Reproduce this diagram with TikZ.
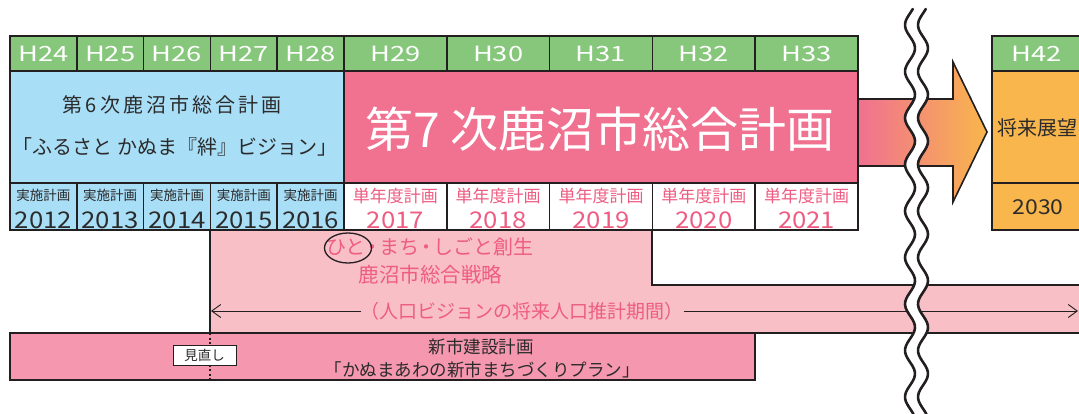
\documentclass[tikz,border=0pt]{standalone}
\usepackage{fontspec}
\setmainfont{Noto Sans CJK JP}
\newfontfamily\hdrfont{Noto Sans CJK JP}[FakeStretch=1.3]
\newfontfamily\yrfont{Noto Sans CJK JP}[FakeStretch=1.12]
\usetikzlibrary{arrows.meta,calc,shapes.geometric}
\definecolor{lineC}{HTML}{231F20}
\definecolor{hdrG}{HTML}{86C77B}
\definecolor{blueF}{HTML}{A9DEF7}
\definecolor{pinkM}{HTML}{F07190}
\definecolor{pinkL}{HTML}{F8BFC7}
\definecolor{pinkB}{HTML}{F497AF}
\definecolor{orangeF}{HTML}{F9B64C}
\definecolor{pinkT}{HTML}{EE5C82}
\definecolor{textD}{HTML}{2B2B2B}
\begin{document}
\begin{tikzpicture}[x=1pt,y=-1pt,
  cell/.style={draw=lineC, line width=1.7pt, inner sep=0pt, outer sep=0pt, anchor=north west},
  hdr/.style={cell, fill=hdrG, text=white, font=\hdrfont\fontsize{21}{24}\selectfont, minimum height=35pt},
  lcell/.style={minimum width=66.8pt},
  rcell/.style={minimum width=102.8pt},
  lab/.style={inner sep=0pt, outer sep=0pt},
  small/.style={lab, text=textD, font=\fontsize{13.5}{16}\selectfont},
  smallp/.style={lab, text=pinkT, font=\fontsize{17}{20}\selectfont},
  yr/.style={lab, font=\yrfont\fontsize{23}{26}\selectfont},
  mid/.style={lab, font=\fontsize{20}{24}\selectfont},
  wave/.style={draw=lineC, line width=2.6pt, line cap=round},
]
\useasboundingbox (0,0) rectangle (1079,414);
\clip (0,0) rectangle (1079,414);

% strategy region
\filldraw[fill=pinkL, draw=lineC, line width=1.6pt]
  (210,230) -- (652,230) -- (652,285) -- (1095,285) -- (1095,333) -- (210,333) -- cycle;

% header cells
\foreach \i/\t in {0/H24,1/H25,2/H26,3/H27,4/H28}
  \node[hdr, lcell] (hl\i) at ({10+66.8*\i},36) {\t};
\foreach \i/\t in {0/H29,1/H30,2/H31,3/H32,4/H33}
  \node[hdr, rcell] (hr\i) at ({344+102.8*\i},36) {\t};
\node[hdr, minimum width=100pt] (h42) at (992,36) {};
\node[lab, text=white, font=\hdrfont\fontsize{21}{24}\selectfont] (h42t) at (1037,53.5) {H42};

% small cells
\foreach \i/\y in {0/2012,1/2013,2/2014,3/2015,4/2016}{
  \node[cell, lcell, fill=blueF, minimum height=47pt] (sl\i) at ({10+66.8*\i},183) {};
  \node[small] (slt\i) at ($(sl\i.north)+(0,12)$) {実施計画};
  \node[yr, text=textD] (sly\i) at ($(sl\i.north)+(0,37)$) {\y};
}
\foreach \i/\y in {0/2017,1/2018,2/2019,3/2020,4/2021}{
  \node[cell, rcell, fill=white, minimum height=47pt] (sr\i) at ({344+102.8*\i},183) {};
  \node[smallp] (srt\i) at ($(sr\i.north)+(0,13)$) {単年度計画};
  \node[yr, text=pinkT] (sry\i) at ($(sr\i.north)+(0,37)$) {\y};
}

% 6th plan
\node[cell, fill=blueF, line width=2.2pt, minimum width=334pt, minimum height=112pt] (pold) at (10,71) {};
\node[mid, text=textD] (pold1) at (172,105) {第\kern3pt 6\kern3pt 次\kern3pt 鹿\kern3pt 沼\kern3pt 市\kern3pt 総\kern3pt 合\kern3pt 計\kern3pt 画};
\node[mid, text=textD] (pold2) at (175,147) {「ふるさと かぬま『絆』ビジョン」};

% 7th plan
\node[cell, fill=pinkM, line width=2.8pt, minimum width=514pt, minimum height=112pt] (pmain) at (344,71) {};
\node[lab, text=white, font=\fontsize{48}{50}\selectfont] (pmaint) at (600,129) {第7 次鹿沼市総合計画};

% future
\node[cell, fill=orangeF, minimum width=100pt, minimum height=112pt] (fut) at (992,71) {};
\node[mid, anchor=west, text=textD] (futt) at (997,128) {将来展望};
\node[cell, fill=orangeF, minimum width=100pt, minimum height=47pt] (fyr) at (992,183) {};
\node[lab, text=textD, font=\yrfont\fontsize{20.5}{24}\selectfont] (fyrt) at (1038,207) {2030};

% big arrow
\coordinate (arA) at (859,99);
\coordinate (arB) at (953,99);
\coordinate (arC) at (953,62);
\coordinate (arT) at (987,132);
\coordinate (arD) at (953,202);
\coordinate (arE) at (953,166);
\coordinate (arF) at (859,166);
\shade[left color=pinkM, right color=orangeF] (arA) -- (arB) -- (arC) -- (arT) -- (arD) -- (arE) -- (arF) -- cycle;
\draw[lineC, line width=1.6pt, line join=miter] (arA) -- (arB) -- (arC) -- (arT) -- (arD) -- (arE) -- (arF);

% strategy texts
\node[lab, text=pinkT, font=\fontsize{20}{22}\selectfont] (st1) at (430,247) {ひと\kern-3pt・\kern-3pt まち\kern-3pt・\kern-3pt しごと創生};
\node[lab, text=pinkT, font=\fontsize{20.5}{24}\selectfont] (st2) at (430.5,275) {鹿沼市総合戦略};
\node[ellipse, draw=lineC, line width=1.3pt, minimum width=47pt, minimum height=30pt, inner sep=0pt] (hitoc) at (348,248) {};

% population period arrow
\node[lab, text=pinkT, font=\fontsize{19}{22}\selectfont] (poplab) at (522,311) {（人口ビジョンの将来人口推計期間）};
\coordinate (popL) at (211,311);
\coordinate (popR) at (1078,311);
\draw[lineC, line width=0.9pt, -{Straight Barb[length=9pt,width=13pt]}] (poplab.west) -- (popL);
\draw[lineC, line width=0.9pt, -{Straight Barb[length=9pt,width=13pt]}] (poplab.east) -- (popR);

% new city plan
\node[cell, fill=pinkB, minimum width=745pt, minimum height=47pt] (plan) at (10,333) {};
\coordinate (mnA) at (210,333);
\coordinate (mnB) at (210,380);
\draw[lineC, line width=1.6pt, dash pattern=on 2pt off 2.5pt] (mnA) -- (mnB);
\node[draw=lineC, line width=1pt, fill=white, inner sep=0pt, minimum width=63pt, minimum height=20pt, font=\fontsize{13.5}{16}\selectfont, text=textD] (minaoshi) at (204.5,355) {見直し};
\node[lab, text=textD, font=\fontsize{17.5}{20}\selectfont] (plan1) at (481,346.5) {新市建設計画};
\node[lab, text=textD, font=\fontsize{17.5}{20}\selectfont] (plan2) at (482,369.5) {「かぬまあわの新市まちづくりプラン」};

% break marks
\fill[white] plot[domain=9:416, samples=140] ({910-5*cos((\x-25)*7.742)},\x)
  -- plot[domain=416:9, samples=140] ({923-5*cos((\x-25)*7.742)},\x) -- cycle;
\draw[wave] plot[domain=9:416, samples=140, smooth] ({910-5*cos((\x-25)*7.742)},\x);
\draw[wave] plot[domain=9:416, samples=140, smooth] ({923-5*cos((\x-25)*7.742)},\x);
\end{tikzpicture}
\end{document}
